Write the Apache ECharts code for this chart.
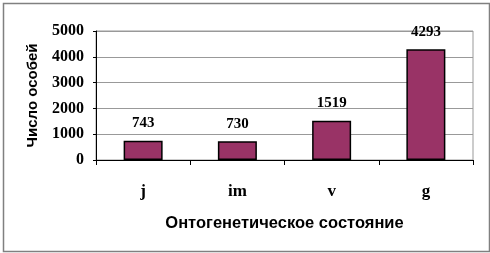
<!DOCTYPE html>
<html><head><meta charset="utf-8">
<script src="https://cdn.jsdelivr.net/npm/echarts@6/dist/echarts.min.js"></script>
<style>html,body{margin:0;padding:0;background:#fff;}#c{width:490px;height:253px;}</style>
</head><body><div id="c"></div>
<script>
var categories = ['j', 'im', 'v', 'g'];
var values = [743, 730, 1519, 4293];
var yTicks = [0, 1000, 2000, 3000, 4000, 5000];
var xTitle = 'Онтогенетическое состояние';
var yTitle = 'Число особей';

var chart = echarts.init(document.getElementById('c'), null, {renderer: 'canvas'});
chart.setOption({
  animation: false,
  backgroundColor: '#fff',
  graphic: [{
    type: 'rect', left: 1, top: 1, silent: true,
    shape: {width: 486, height: 248},
    style: {fill: 'none', stroke: '#808080', lineWidth: 1.5}
  }],
  grid: {left: 96, right: 17, top: 31, bottom: 93, show: true, borderColor: '#999', borderWidth: 1, backgroundColor: 'transparent'},
  xAxis: {
    type: 'category', data: categories, boundaryGap: true,
    axisLine: {lineStyle: {color: '#000', width: 1}},
    axisTick: {show: true, length: 5, lineStyle: {color: '#000'}},
    axisLabel: {margin: 23, color: '#000', fontFamily: 'Liberation Serif', fontWeight: 'bold', fontSize: 17},
    name: xTitle, nameLocation: 'middle', nameGap: 55,
    nameTextStyle: {color: '#000', fontFamily: 'Liberation Sans', fontWeight: 'bold', fontSize: 16.5}
  },
  yAxis: {
    type: 'value', min: 0, max: 5000, interval: 1000,
    axisLine: {show: true, lineStyle: {color: '#000', width: 1}},
    axisTick: {show: true, length: 3, lineStyle: {color: '#000'}},
    splitLine: {lineStyle: {color: '#999', width: 1}},
    axisLabel: {margin: 12, color: '#000', fontFamily: 'Liberation Serif', fontWeight: 'bold', fontSize: 16,
      formatter: function (v) { return yTicks.indexOf(v) >= 0 ? String(v) : ''; }},
    name: yTitle, nameLocation: 'middle', nameGap: 56, nameRotate: 90,
    nameTextStyle: {color: '#000', fontFamily: 'Liberation Sans', fontWeight: 'bold', fontSize: 15}
  },
  series: [{
    type: 'bar', data: values, barWidth: 39,
    itemStyle: {color: '#993366', borderColor: '#000', borderWidth: 1.5},
    label: {show: true, position: 'top', distance: 10, color: '#000', fontFamily: 'Liberation Serif', fontWeight: 'bold', fontSize: 15}
  }]
});
</script></body></html>
